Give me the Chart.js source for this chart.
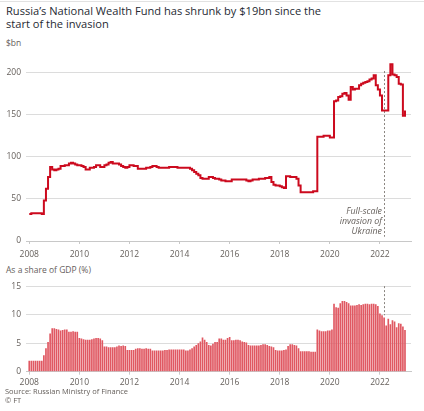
<!DOCTYPE html>
<html>
<head>
<meta charset="utf-8">
<script src="https://cdn.jsdelivr.net/npm/chart.js@4/dist/chart.umd.min.js"></script>
<style>
  body { margin: 0; width: 424px; height: 411px; background: #fff; position: relative; overflow: hidden;
         font-family: "Open Sans", sans-serif; color: #33302e; }
  .rule { position: absolute; left: 0; top: 1px; width: 424px; height: 1px; background: #e2e2e2; }
  #title { position: absolute; left: 6px; top: 4px; font-size: 11.1px; line-height: 13.4px; color: #262a33; }
  .unit { position: absolute; left: 6px; font-size: 8.5px; color: #66605c; }
  #topBox { position: absolute; left: 0; top: 50px; }
  #botBox { position: absolute; left: 0; top: 276px; }
  #source { position: absolute; left: 5px; top: 387px; font-size: 7.5px; line-height: 9px; color: #66605c; }
</style>
</head>
<body>
<div class="rule"></div>
<div id="title">Russia’s National Wealth Fund has shrunk by $19bn since the<br>start of the invasion</div>
<div class="unit" style="top:37px">$bn</div>
<div id="topBox"><canvas id="fundChart" width="424" height="212"></canvas></div>
<div class="unit" style="top:264px">As a share of GDP (%)</div>
<div id="botBox"><canvas id="shareChart" width="424" height="112"></canvas></div>
<div id="source">Source: Russian Ministry of Finance<br>© FT</div>

<script>
// monthly values, Jan 2008 .. Jan 2023
const startYear = 2008;
const fundBn = [
  32, 33, 33, 33, 33, 33, 32, 48, 62, 76, 88, 85,
  84, 85, 86, 89, 89, 90, 90, 92, 93, 92, 91, 90,
  90, 89, 88, 85, 85, 87, 87, 88, 90, 90, 88, 88,
  90, 91, 93, 94, 92, 92, 92, 91, 89, 88, 87, 88,
  90, 90, 89, 89, 86, 86, 86, 86, 87, 87, 88, 89,
  89, 88, 87, 87, 87, 87, 87, 88, 88, 88, 88, 87,
  87, 87, 87, 87, 87, 86, 84, 82, 80, 78, 75, 74,
  74, 74, 76, 76, 75, 74, 74, 73, 72, 72, 71, 71,
  71, 73, 73, 73, 73, 73, 73, 73, 72, 71, 72, 73,
  73, 73, 74, 74, 74, 75, 75, 76, 70, 67, 66, 66,
  65, 64, 63, 77, 77, 76, 76, 76, 74, 66, 58, 58,
  58, 58, 58, 58, 59, 59, 124, 124, 124, 125, 125, 125,
  123, 123, 166, 167, 171, 172, 175, 176, 173, 168, 183, 180,
  181, 181, 185, 187, 188, 189, 190, 192, 193, 197, 185, 180,
  173, 155, 155, 155, 197, 210, 198, 197, 195, 187, 186, 149,
  155
];
const gdpShare = [
  1.9, 1.9, 1.9, 1.9, 1.9, 1.9, 1.9, 2.9, 4.1, 5.2, 6.7, 7.6,
  7.6, 7.5, 7.4, 7.2, 7.3, 7.4, 7.4, 7.0, 7.0, 7.1, 7.0, 7.0,
  5.9, 5.8, 5.7, 5.6, 5.6, 5.6, 5.7, 5.8, 5.9, 5.9, 5.8, 5.5,
  4.4, 4.4, 4.3, 4.3, 4.3, 4.3, 4.4, 4.6, 4.5, 4.6, 4.5, 3.8,
  3.8, 3.8, 3.8, 4.0, 4.1, 4.1, 4.0, 4.0, 4.1, 4.0, 4.0, 3.7,
  3.7, 3.7, 3.7, 3.7, 3.7, 3.8, 3.8, 3.9, 3.9, 3.9, 3.9, 3.9,
  3.9, 3.9, 3.9, 3.7, 3.7, 3.9, 4.1, 4.4, 4.7, 5.0, 5.3, 6.0,
  5.6, 5.2, 4.7, 4.6, 4.9, 5.2, 5.2, 5.8, 5.8, 5.6, 5.6, 5.9,
  6.1, 5.5, 5.5, 5.6, 5.6, 5.5, 5.3, 5.2, 5.1, 4.7, 4.6, 4.6,
  4.6, 4.6, 4.6, 4.7, 4.8, 4.8, 4.7, 4.5, 4.4, 4.3, 3.8, 3.7,
  3.7, 3.7, 3.8, 3.9, 4.5, 4.8, 4.8, 4.7, 4.6, 4.1, 3.6, 3.6,
  3.6, 3.6, 3.6, 3.5, 3.5, 3.5, 7.4, 7.2, 7.1, 7.1, 7.1, 7.2,
  7.2, 7.4, 11.9, 11.3, 11.2, 12.0, 12.4, 12.4, 12.2, 12.0, 11.6, 11.6,
  11.6, 11.7, 11.8, 11.7, 11.8, 11.9, 11.9, 11.8, 11.9, 11.9, 11.8, 11.5,
  10.2, 9.9, 9.5, 8.1, 9.3, 8.3, 9.0, 8.8, 7.8, 8.5, 8.4, 7.9,
  7.3
];
const fundTicks = [0, 50, 100, 150, 200];
const shareTicks = [0, 5, 10, 15];
const yearTicks = [2008, 2010, 2012, 2014, 2016, 2018, 2020, 2022];
const invasionDate = 2022 + 54 / 365;   // 24 Feb 2022
const invasionNote = ['Full-scale', 'invasion of', 'Ukraine'];

const RED = '#cc0a1e';
const BAR = '#e05862';
const GRID = '#dcdcdc';
const TEXT = '#66605c';
const FONT = '"Open Sans", sans-serif';

const monthX = i => startYear + i / 12;

// dashed marker at the invasion date, plus optional note
const invasionLine = {
  id: 'invasionLine',
  beforeDatasetsDraw(chart, args, opts) {
    const { ctx, chartArea } = chart;
    const x = chart.scales.x, y = chart.scales.y;
    const px = Math.round(x.getPixelForValue(invasionDate)) + 0.5;
    ctx.save();
    ctx.strokeStyle = '#8a8580';
    ctx.lineWidth = 1;
    ctx.setLineDash([2, 2]);
    ctx.beginPath();
    ctx.moveTo(px, y.getPixelForValue(opts.from));
    ctx.lineTo(px, y.getPixelForValue(opts.to));
    ctx.stroke();
    if (opts.note) {
      ctx.fillStyle = TEXT;
      ctx.font = 'italic 8.8px ' + FONT;
      ctx.textAlign = 'right';
      ctx.textBaseline = 'middle';
      const n = opts.note.length;
      opts.note.forEach((t, k) => {
        ctx.fillText(t, px - 2.5, chartArea.bottom - 9.5 - (n - 1 - k) * 10.2);
      });
    }
    ctx.restore();
  }
};

function xAxis(height, pad) {
  return {
    type: 'linear',
    min: 2007.87,
    max: 2023.24,
    offset: false,
    afterBuildTicks: s => { s.ticks = yearTicks.map(v => ({ value: v })); },
    afterFit: s => { s.height = height; },
    ticks: { autoSkip: false, maxRotation: 0, padding: pad, color: TEXT,
             font: { family: FONT, size: 8.5 }, callback: v => String(v) },
    grid: { drawOnChartArea: false, drawTicks: true, tickLength: 3, color: '#c8c8c8', offset: false },
    border: { display: true, color: '#c8c8c8' }
  };
}

function yAxis(max, ticks) {
  return {
    min: 0,
    max: max,
    afterBuildTicks: s => { s.ticks = ticks.map(v => ({ value: v })); },
    afterFit: s => { s.width = 26; },
    ticks: { padding: 5, color: TEXT, font: { family: FONT, size: 8.5 } },
    grid: { drawTicks: false, color: GRID },
    border: { display: false }
  };
}

new Chart(document.getElementById('fundChart'), {
  type: 'line',
  data: {
    datasets: [{
      data: fundBn.map((v, i) => ({ x: monthX(i), y: v })),
      borderColor: RED,
      borderWidth: 2,
      stepped: true,
      pointRadius: 0,
      fill: false
    }]
  },
  options: {
    responsive: false,
    animation: false,
    layout: { padding: { top: 1.8, right: 13, left: 0, bottom: 0 } },
    scales: { x: xAxis(21, 5.5), y: yAxis(215, fundTicks) },
    plugins: {
      legend: { display: false },
      tooltip: { enabled: false },
      invasionLine: { from: 202, to: 5, note: invasionNote }
    }
  },
  plugins: [invasionLine]
});

const febIdx = Math.floor((invasionDate - startYear) * 12);
new Chart(document.getElementById('shareChart'), {
  type: 'bar',
  data: {
    datasets: [{
      data: gdpShare.map((v, i) => ({ x: monthX(i), y: v })),
      backgroundColor: BAR,
      borderWidth: 0,
      categoryPercentage: 1,
      barPercentage: 0.8
    }]
  },
  options: {
    responsive: false,
    animation: false,
    layout: { padding: { top: 9.7, right: 13, left: 0, bottom: 0 } },
    scales: { x: xAxis(16.3, 2.5), y: yAxis(15, shareTicks) },
    plugins: {
      legend: { display: false },
      tooltip: { enabled: false },
      invasionLine: { from: 15, to: gdpShare[febIdx] }
    }
  },
  plugins: [invasionLine]
});
</script>
</body>
</html>
